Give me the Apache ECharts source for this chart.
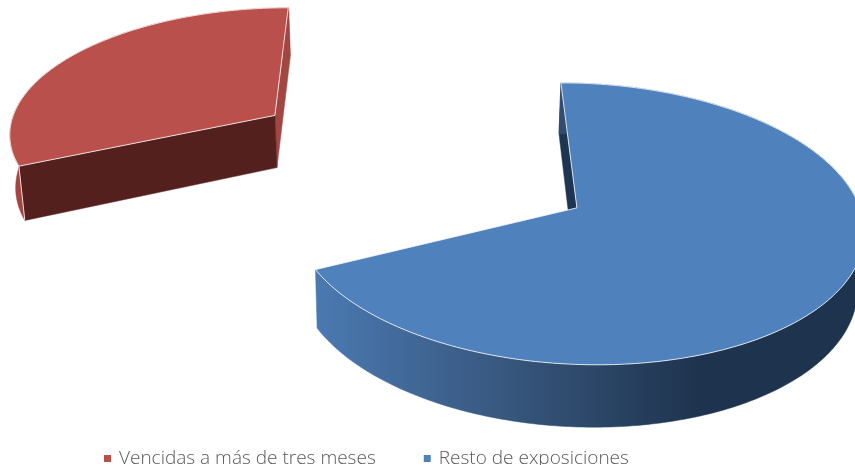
<!DOCTYPE html>
<html>
<head>
<meta charset="utf-8">
<style>html,body{margin:0;padding:0;background:#fff}#c{width:855px;height:465px}</style>
<script src="https://cdn.jsdelivr.net/npm/echarts@6/dist/echarts.min.js"></script>
</head>
<body>
<div id="c"></div>
<script>
const categories = ['Vencidas a más de tres meses', 'Resto de exposiciones'];
const shares = [31.7, 68.3];

const total = shares[0] + shares[1];
const TOP = ['#b9504c', '#4f81bd'];
const WALL_START = ['#53201e', '#1d3550'];
const WALL_END = ['#a34541', null];
const EDGE = 'rgba(255,255,255,0.8)';

// perspective camera of the exploded 3D pie
const VX = 420, VY = -1018, VD = 1226, DEPTH = 2493, RADIUS = 283, THICK = 56, THICK_W = 50, EXPLODE = 187, DOWN = 3700;
const rad = d => d * Math.PI / 180;

function project(X, Y, z) {
  const w = 1 / (1 - (Y - 102) / DEPTH);
  let sy = VY + VD * w, sx = VX + X * w;
  if (z) { const d = THICK + (w - 1) * THICK_W; sy += d; sx += (VX - sx) * d / DOWN; }
  return [sx, sy];
}

function sliceAngles(i) {
  const redSweep = shares[0] / total * 360;
  return i === 0 ? [360 - redSweep, 360] : [0, 360 - redSweep];
}

function renderSlice(params, api) {
  const i = params.seriesIndex;
  const [a0, a1] = sliceAngles(i);
  const mid = rad((a0 + a1) / 2);
  const ax = EXPLODE * Math.sin(mid), ay = -EXPLODE * Math.cos(mid);
  const rim = (deg, z) => project(ax + RADIUS * Math.sin(rad(deg)), ay - RADIUS * Math.cos(rad(deg)), z);
  const apexT = project(ax, ay, 0), apexB = project(ax, ay, 1);
  const topRim = [], wallT = [], wallB = [];
  for (let a = a0; a <= a1 + 1e-6; a += 1) {
    topRim.push(rim(a, 0));
    wallT.push(rim(a, 0));
    wallB.unshift(rim(a, 1));
  }
  const wallFill = i === 1
    ? new echarts.graphic.LinearGradient(316, 0, 700, 0, [
        { offset: 0, color: '#4a79b1' },
        { offset: 0.48, color: '#38587f' },
        { offset: 1, color: '#1e334e' }], true)
    : '#a34541';
  const poly = (points, fill, stroke) => ({
    type: 'polygon', shape: { points },
    style: { fill, stroke: stroke || fill, lineWidth: stroke ? 1 : 0.5 }
  });
  const children = [];
  if (WALL_END[i]) children.push(poly([apexT, rim(a1, 0), rim(a1, 1), apexB], WALL_END[i]));
  children.push(poly([apexT, rim(a0, 0), rim(a0, 1), apexB], WALL_START[i]));
  children.push(poly(wallT.concat(wallB), wallFill));
  const edgeAngle = i === 0 ? a0 : a1;
  children.push({ type: 'polyline', shape: { points: [rim(edgeAngle, 0), rim(edgeAngle, 1)] },
    style: { stroke: EDGE, lineWidth: 1, fill: null } });
  children.push(poly([apexT].concat(topRim), TOP[i], EDGE));
  return { type: 'group', children };
}

const chart = echarts.init(document.getElementById('c'), null, { renderer: 'canvas' });
chart.setOption({
  animation: false,
  backgroundColor: '#fff',
  legend: {
    left: 100, top: 449, itemWidth: 7, itemHeight: 7, itemGap: 48, padding: [0, 0, 0, 4],
    icon: 'rect',
    selectedMode: false,
    data: categories,
    textStyle: { fontFamily: 'Open Sans', fontSize: 19, fontWeight: 300, color: '#595959', padding: [2, 0, 0, 3] }
  },
  series: categories.map((name, i) => ({
    type: 'custom', name, coordinateSystem: 'none',
    itemStyle: { color: TOP[i] },
    renderItem: renderSlice,
    data: [shares[i]],
    silent: true
  }))
});
</script>
</body>
</html>
